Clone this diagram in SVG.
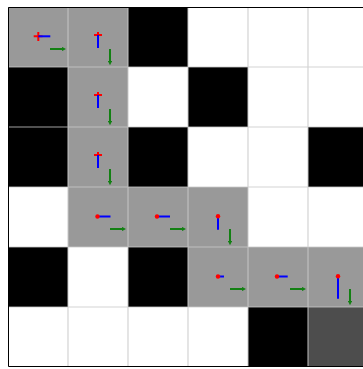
<svg xmlns="http://www.w3.org/2000/svg" width="363" height="369" viewBox="0 0 363 369">
<defs>
<style>
.w{fill:#ffffff}
.g{fill:#999999}
.k{fill:#000000}
.d{fill:#4d4d4d}
.grid{stroke:#c8c8c8;stroke-width:1.2;opacity:0.8;fill:none}
.blue{stroke:#0000ff;stroke-width:2;fill:none}
.red{stroke:#ff0000;stroke-width:2;fill:none}
.dot{fill:#ff0000}
.grn{stroke:#138013;stroke-width:2;fill:none;marker-end:url(#ah)}
</style>
<marker id="ah" viewBox="0 0 6 6" refX="3" refY="3" markerWidth="2.2" markerHeight="2.2" orient="auto" markerUnits="strokeWidth">
<path d="M0,0 L6,3 L0,6 z" fill="#138013"/>
</marker>
</defs>
<rect x="0" y="0" width="363" height="369" fill="#ffffff"/>
<g id="cells">
<rect class="g" x="8" y="7" width="60" height="60"/>
<rect class="g" x="68" y="7" width="60" height="60"/>
<rect class="k" x="128" y="7" width="60" height="60"/>
<rect class="w" x="188" y="7" width="60" height="60"/>
<rect class="w" x="248" y="7" width="60" height="60"/>
<rect class="w" x="308" y="7" width="60" height="60"/>
<rect class="k" x="8" y="67" width="60" height="60"/>
<rect class="g" x="68" y="67" width="60" height="60"/>
<rect class="w" x="128" y="67" width="60" height="60"/>
<rect class="k" x="188" y="67" width="60" height="60"/>
<rect class="w" x="248" y="67" width="60" height="60"/>
<rect class="w" x="308" y="67" width="60" height="60"/>
<rect class="k" x="8" y="127" width="60" height="60"/>
<rect class="g" x="68" y="127" width="60" height="60"/>
<rect class="k" x="128" y="127" width="60" height="60"/>
<rect class="w" x="188" y="127" width="60" height="60"/>
<rect class="w" x="248" y="127" width="60" height="60"/>
<rect class="k" x="308" y="127" width="60" height="60"/>
<rect class="w" x="8" y="187" width="60" height="60"/>
<rect class="g" x="68" y="187" width="60" height="60"/>
<rect class="g" x="128" y="187" width="60" height="60"/>
<rect class="g" x="188" y="187" width="60" height="60"/>
<rect class="w" x="248" y="187" width="60" height="60"/>
<rect class="w" x="308" y="187" width="60" height="60"/>
<rect class="k" x="8" y="247" width="60" height="60"/>
<rect class="w" x="68" y="247" width="60" height="60"/>
<rect class="k" x="128" y="247" width="60" height="60"/>
<rect class="g" x="188" y="247" width="60" height="60"/>
<rect class="g" x="248" y="247" width="60" height="60"/>
<rect class="g" x="308" y="247" width="60" height="60"/>
<rect class="w" x="8" y="307" width="60" height="60"/>
<rect class="w" x="68" y="307" width="60" height="60"/>
<rect class="w" x="128" y="307" width="60" height="60"/>
<rect class="w" x="188" y="307" width="60" height="60"/>
<rect class="k" x="248" y="307" width="60" height="60"/>
<rect class="d" x="308" y="307" width="60" height="60"/>
</g>
<g id="gridlines" class="grid">
<path d="M68,7 V367 M128,7 V367 M188,7 V367 M248,7 V367 M308,7 V367 M8,67 H363 M8,127 H363 M8,187 H363 M8,247 H363 M8,307 H363"/>
</g>
<path d="M8.5,7.5 H363 M8.5,7.5 V366.5 H363" fill="none" stroke="#000000" stroke-width="1"/>
<g id="cell-0-0" transform="translate(8,7)">
<path class="red" d="M25.7,29.3 H34.5 M30.3,25 V34"/>
<path class="blue" d="M30.3,29.3 H42.3"/>
<path class="grn" d="M42,42 H56"/>
</g>
<g id="cell-0-1" transform="translate(68,7)">
<path class="red" d="M26,28 H34 M30,25 V31"/>
<path class="blue" d="M30,28 V41"/>
<path class="grn" d="M42,42 V56"/>
</g>
<g id="cell-1-1" transform="translate(68,67)">
<path class="red" d="M26,28 H34 M30,25 V31"/>
<path class="blue" d="M30,28 V41"/>
<path class="grn" d="M42,42 V56"/>
</g>
<g id="cell-2-1" transform="translate(68,127)">
<path class="red" d="M26,28 H34 M30,25 V31"/>
<path class="blue" d="M30,28 V41"/>
<path class="grn" d="M42,42 V56"/>
</g>
<g id="cell-3-1" transform="translate(68,187)">
<path class="blue" d="M29.5,29.5 H42.5"/>
<circle class="dot" cx="29.5" cy="29.5" r="2.2"/>
<path class="grn" d="M42,42 H56"/>
</g>
<g id="cell-3-2" transform="translate(128,187)">
<path class="blue" d="M29,29.5 H42"/>
<circle class="dot" cx="29" cy="29.5" r="2.2"/>
<path class="grn" d="M42,42 H56"/>
</g>
<g id="cell-3-3" transform="translate(188,187)">
<path class="blue" d="M30,29.3 V42.7"/>
<circle class="dot" cx="30" cy="29.3" r="2.2"/>
<path class="grn" d="M42,42 V56"/>
</g>
<g id="cell-4-3" transform="translate(188,247)">
<path class="blue" d="M30,29.5 H36"/>
<circle class="dot" cx="30" cy="29.5" r="2.2"/>
<path class="grn" d="M42,42 H56"/>
</g>
<g id="cell-4-4" transform="translate(248,247)">
<path class="blue" d="M29,29.5 H39.7"/>
<circle class="dot" cx="29" cy="29.5" r="2.2"/>
<path class="grn" d="M42,42 H56"/>
</g>
<g id="cell-4-5" transform="translate(308,247)">
<path class="blue" d="M30,29.3 V51.7"/>
<circle class="dot" cx="30" cy="29.3" r="2.2"/>
<path class="grn" d="M42,42 V56"/>
</g>
</svg>
